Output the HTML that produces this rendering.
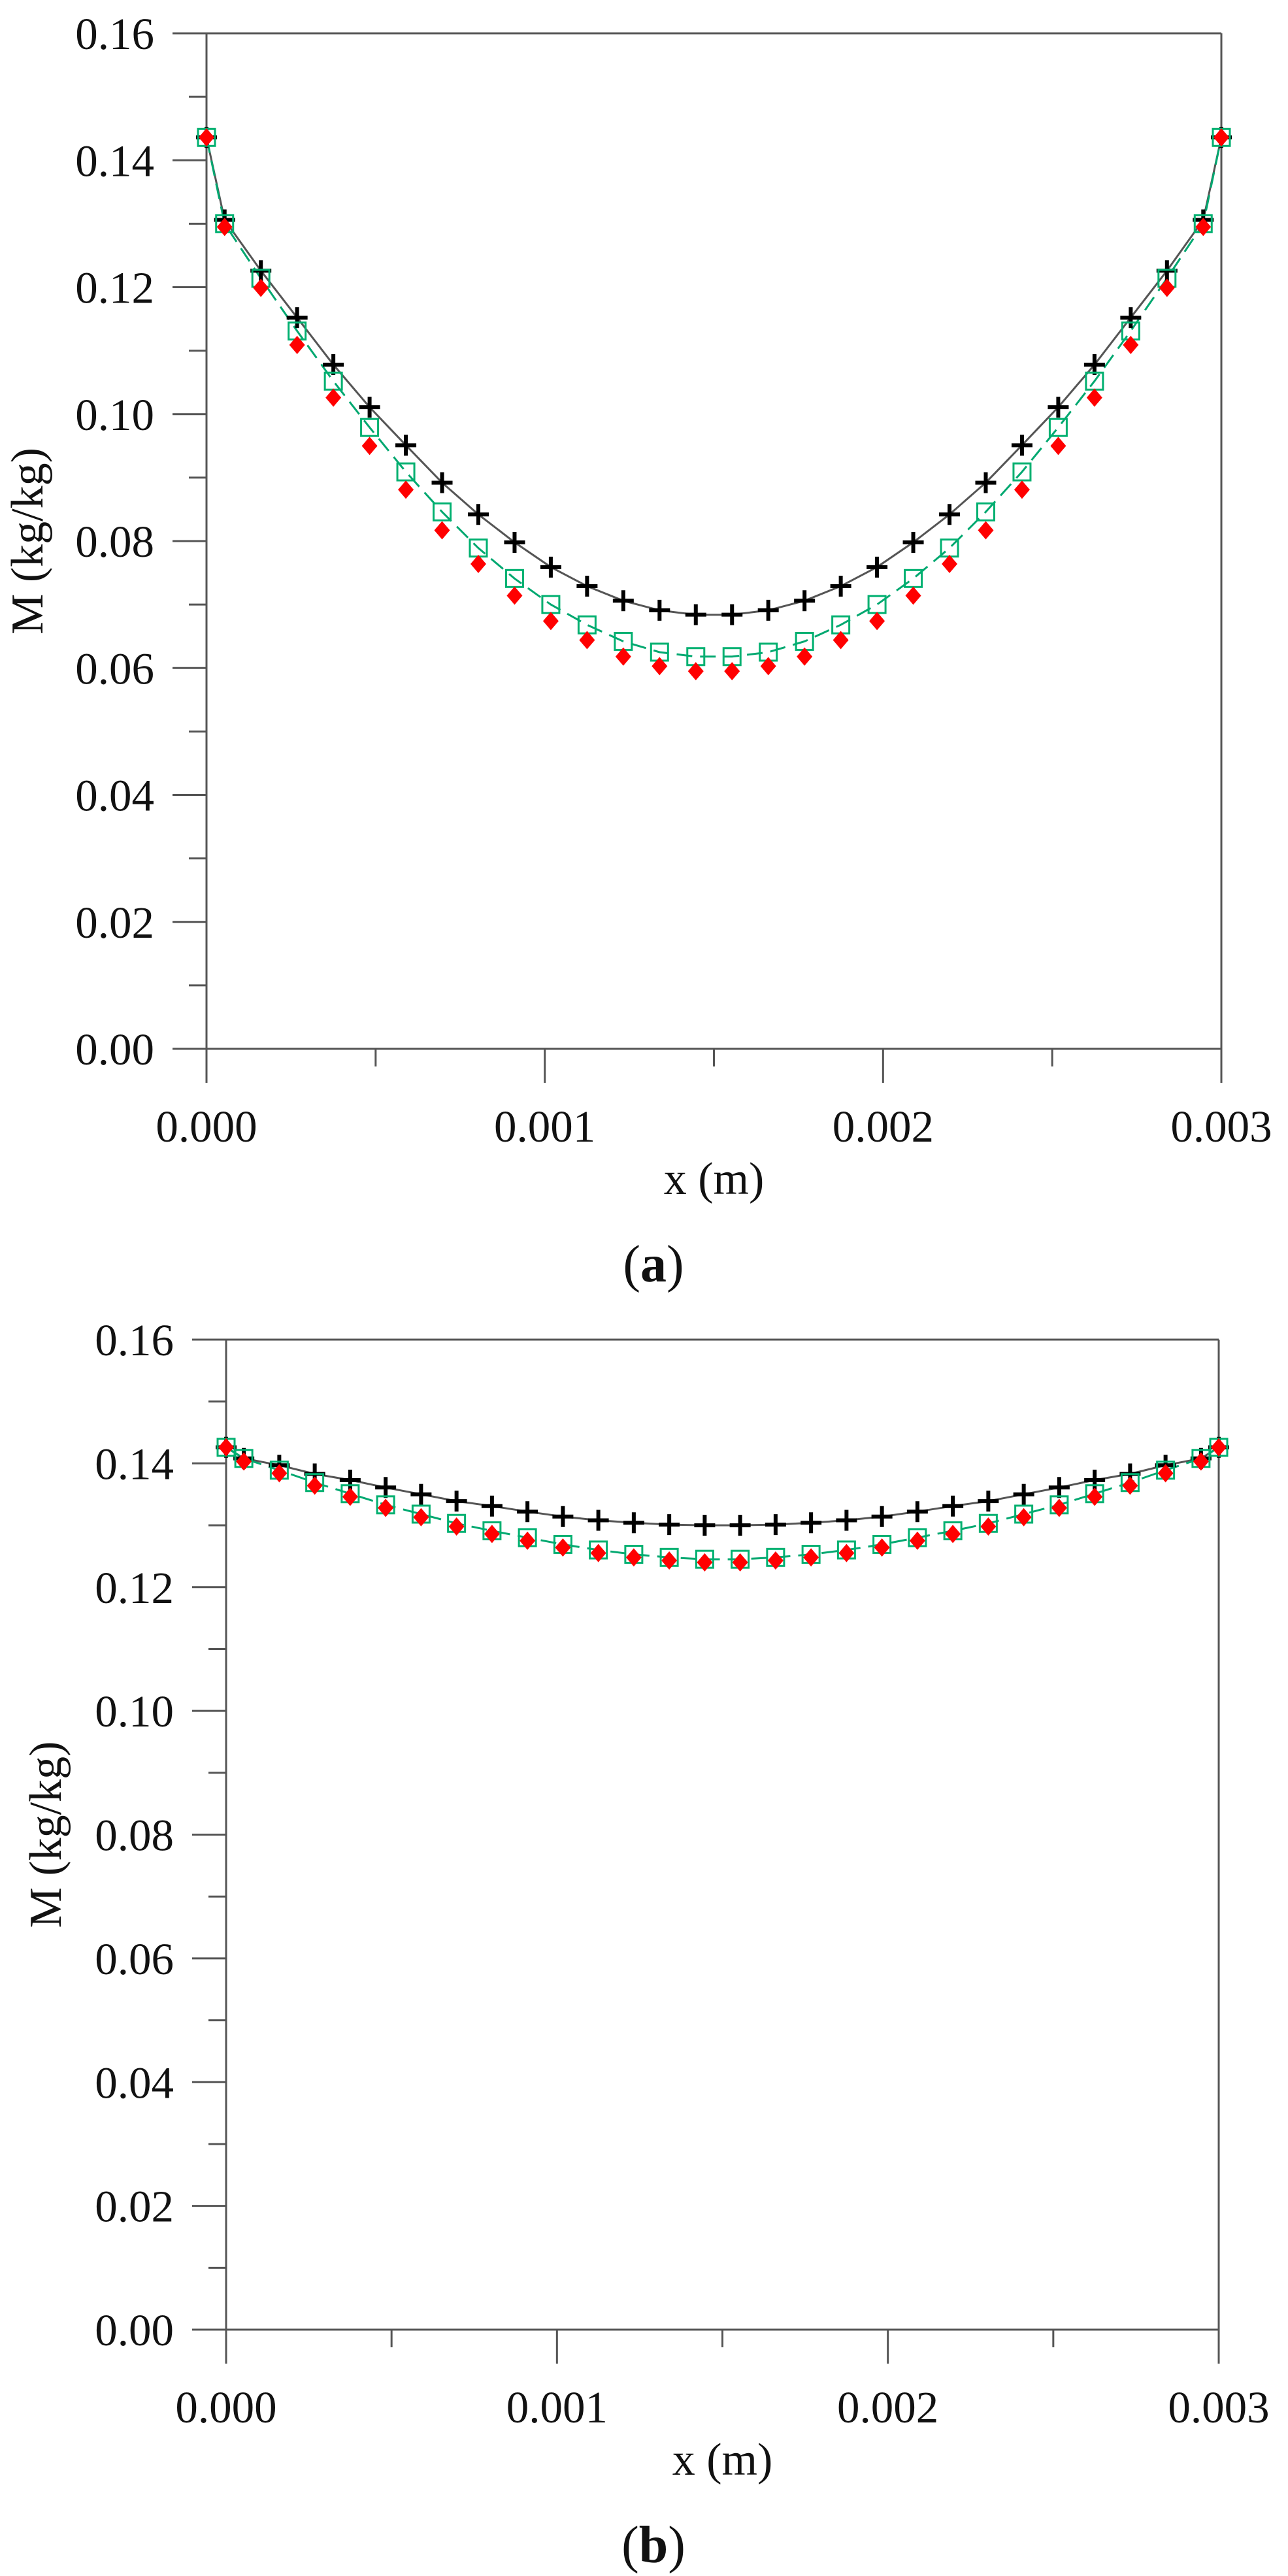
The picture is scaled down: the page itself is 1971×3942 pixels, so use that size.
<!DOCTYPE html>
<html><head><meta charset="utf-8">
<style>
html,body{margin:0;padding:0;background:#fff;}
svg{display:block;}
text{font-family:"Liberation Serif","Times New Roman",serif;fill:#111;}
</style></head>
<body>
<svg id="s" width="1971" height="3942" viewBox="0 0 1971 3942" xmlns="http://www.w3.org/2000/svg">
<rect width="1971" height="3942" fill="#fff"/>
<g id="g"></g>
</svg>
<script>
var NS="http://www.w3.org/2000/svg";
var g=document.getElementById("g");
function el(n,a,t){var e=document.createElementNS(NS,n);for(var k in a)e.setAttribute(k,a[k]);if(t!==undefined)e.textContent=t;g.appendChild(e);return e;}
function plot(P){
  var X=function(x){return P.x0+x/0.003*(P.x1-P.x0);};
  var Y=function(v){return P.y0-v/0.16*(P.y0-P.yt);};
  var ax={stroke:"#555","stroke-width":3,fill:"none"};
  // frame
  el("line",Object.assign({x1:P.x0-52,y1:P.yt,x2:P.x1,y2:P.yt},ax));
  el("line",Object.assign({x1:P.x0,y1:P.yt,x2:P.x0,y2:P.y0+52},ax));
  el("line",Object.assign({x1:P.x1,y1:P.yt,x2:P.x1,y2:P.y0+52},ax));
  el("line",Object.assign({x1:P.x0-52,y1:P.y0,x2:P.x1,y2:P.y0},ax));
  for(var i=0;i<=16;i++){
    var v=i*0.01,y=Y(v);
    if(i%2==0){
      el("line",Object.assign({x1:P.x0-52,y1:y,x2:P.x0,y2:y},ax));
      el("text",{x:P.x0-80,y:y+24,"font-size":69,"text-anchor":"end"},v.toFixed(2));
    } else el("line",Object.assign({x1:P.x0-27,y1:y,x2:P.x0,y2:y},ax));
  }
  for(var i=0;i<=6;i++){
    var x=X(i*0.0005);
    if(i%2==0){
      el("line",Object.assign({x1:x,y1:P.y0,x2:x,y2:P.y0+52},ax));
      el("text",{x:x,y:P.y0+142,"font-size":69,"text-anchor":"middle"},(i*0.0005).toFixed(3));
    } else el("line",Object.assign({x1:x,y1:P.y0,x2:x,y2:P.y0+27},ax));
  }
  el("text",{x:(P.x0+P.x1)/2,y:P.y0+222,"font-size":70,"text-anchor":"middle"},"x (m)");
  var t=el("text",{x:0,y:0,"font-size":70,"text-anchor":"middle",transform:"translate("+(P.ylx)+","+((P.yt+P.y0)/2)+") rotate(-90)"},"M (kg/kg)");
  var c=el("text",{x:1000,y:P.y0+356,"font-size":80,"text-anchor":"middle"});
  c.innerHTML='(<tspan font-weight="bold">'+P.cap+'</tspan>)';
  var h=0.003/28,xs=[0];for(var i=0;i<28;i++)xs.push((i+0.5)*h);xs.push(0.003);
  function full(a){var r=[];for(var j=0;j<30;j++)r.push(j<=14?a[j]:a[29-j]);return r;}
  var pl=full(P.plus),sq=full(P.sq),di=full(P.dia);
  function pts(a){return xs.map(function(x,j){return X(x).toFixed(1)+","+Y(a[j]).toFixed(1);}).join(" ");}
  el("polyline",{points:pts(pl),fill:"none",stroke:"#555","stroke-width":3});
  el("polyline",{points:pts(sq),fill:"none",stroke:"#00a870","stroke-width":3,"stroke-dasharray":"24,12"});
  for(var j=0;j<30;j++){var x=X(xs[j]),y=Y(pl[j]);
    el("path",{d:"M"+(x-16)+","+y+"H"+(x+16)+"M"+x+","+(y-16)+"V"+(y+16),stroke:"#000","stroke-width":6,fill:"none"});}
  for(var j=0;j<30;j++){var x=X(xs[j]),y=Y(sq[j]);
    el("rect",{x:x-13,y:y-13,width:26,height:26,fill:"none",stroke:"#00b070","stroke-width":3});}
  for(var j=0;j<30;j++){var x=X(xs[j]),y=Y(di[j]);
    el("path",{d:"M"+x+","+(y-14)+"L"+(x+12)+","+y+"L"+x+","+(y+14)+"L"+(x-12)+","+y+"Z",fill:"#f00"});}
}
var bsq=[0.1426,0.1408,0.1389,0.1369,0.1351,0.1333,0.1318,0.1303,0.1291,0.1280,0.1269,0.1260,0.1253,0.1248,0.1245];
var bdi=bsq.map(function(v,i){return i==0?v:v-0.0005;});
plot({x0:316,x1:1869,yt:51,y0:1605,ylx:65,cap:"a",
 plus:[0.1436,0.1306,0.1226,0.1152,0.1078,0.1011,0.0951,0.0892,0.0842,0.0798,0.0759,0.0729,0.0706,0.0691,0.0684],
 sq:[0.1436,0.1300,0.1214,0.1131,0.1052,0.0979,0.0909,0.0846,0.0789,0.0741,0.0700,0.0668,0.0642,0.0625,0.0618],
 dia:[0.1436,0.1295,0.1199,0.1109,0.1026,0.0950,0.0881,0.0817,0.0764,0.0714,0.0674,0.0644,0.0618,0.0603,0.0595]});
plot({x0:346,x1:1865,yt:2050,y0:3565,ylx:93,cap:"b",
 plus:[0.1426,0.1408,0.1397,0.1383,0.1373,0.1361,0.1350,0.1339,0.1331,0.1322,0.1314,0.1308,0.1304,0.1301,0.1300],
 sq:bsq,dia:bdi});
</script>
</body></html>
